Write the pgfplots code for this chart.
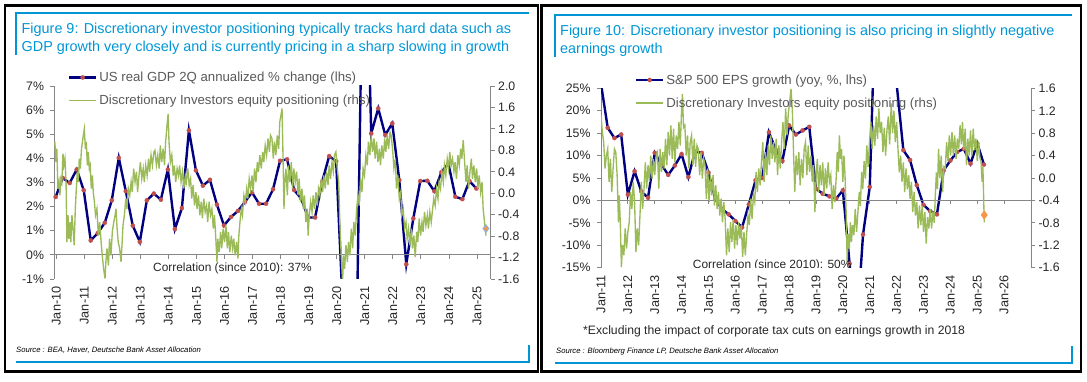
\documentclass[border=0pt]{standalone}
\usepackage{fontspec}
\setmainfont{Liberation Sans}
\usepackage{pgfplots}
\pgfplotsset{compat=1.18}
\definecolor{dbblue}{HTML}{0096D6}
\definecolor{navyl}{HTML}{000080}
\definecolor{redm}{HTML}{C0504D}
\definecolor{greenl}{HTML}{9BBB59}
\definecolor{orangem}{HTML}{F79646}
\definecolor{lblue}{HTML}{8DB4E2}
\definecolor{axgray}{HTML}{868686}
\definecolor{txtgray}{HTML}{595959}
\pgfplotsset{
  dbax/.style={scale only axis,
    axis line style={axgray, line width=0.8pt},
    tick style={axgray, line width=0.8pt},
    tick align=outside, major tick length=4pt,
    tick label style={font=\fontsize{12.3}{13}\selectfont, text=black!85},
    /pgf/number format/assume math mode=true,
    minor tick num=0},
  dblegend/.style={legend cell align=left,
    legend image code/.code={\draw[mark repeat=2,mark phase=2,##1] plot coordinates {(0pt,0pt) (13.5pt,0pt) (27pt,0pt)};},
    legend style={draw=none, fill=none, inner sep=0pt, outer sep=0pt, row sep=12pt, column sep=2pt,
      font=\fontsize{13.2}{15}\selectfont, text=txtgray, nodes={inner sep=0pt, anchor=west}}},
  gdpline/.style={navyl, line width=2.4pt, mark=*, mark size=2.1pt, mark options={solid, fill=redm, draw=redm, line width=0.3pt}},
  posline/.style={greenl, line width=1.35pt}
}
\begin{document}
\begin{tikzpicture}
\useasboundingbox (0pt,0pt) rectangle (1087pt,382pt);
% ---------- frames ----------
\draw[line width=2.5pt] (5pt,376.5pt) rectangle (538pt,10.5pt);
\draw[line width=2.5pt] (541.5pt,376.5pt) rectangle (1081pt,10.5pt);
\draw[dbblue, line width=2pt] (15.5pt,327pt) -- (15.5pt,369pt) -- (528.5pt,369pt);
\draw[dbblue, line width=2pt] (15.5pt,20pt) -- (528.5pt,20pt) -- (528.5pt,37pt);
\draw[dbblue, line width=2pt] (555pt,325pt) -- (555pt,367pt) -- (1072pt,367pt);
\draw[dbblue, line width=2pt] (555pt,19pt) -- (1072pt,19pt) -- (1072pt,36.3pt);
% ---------- titles ----------
\node[anchor=base west, inner sep=0pt, text=dbblue, font=\fontsize{14.4}{17}\selectfont] at (21.5pt,348pt) {Figure 9: Discretionary investor positioning typically tracks hard data such as};
\node[anchor=base west, inner sep=0pt, text=dbblue, font=\fontsize{14.4}{17}\selectfont] at (21.5pt,330.5pt) {GDP growth very closely and is currently pricing in a sharp slowing in growth};
\node[anchor=base west, inner sep=0pt, text=dbblue, font=\fontsize{14.4}{17}\selectfont] at (560pt,346pt) {Figure 10: Discretionary investor positioning is also pricing in slightly negative};
\node[anchor=base west, inner sep=0pt, text=dbblue, font=\fontsize{14.4}{17}\selectfont] at (560pt,328.5pt) {earnings growth};
\node[anchor=base west, inner sep=0pt, font=\fontsize{7.7}{9}\itshape] at (16pt,29.3pt) {Source : BEA, Haver, Deutsche Bank Asset Allocation};
\node[anchor=base west, inner sep=0pt, font=\fontsize{7.7}{9}\itshape] at (556pt,28.5pt) {Source : Bloomberg Finance LP, Deutsche Bank Asset Allocation};
\node[anchor=base west, inner sep=0pt, text=black!85, font=\fontsize{12.2}{14}\selectfont] at (583pt,47.5pt) {*Excluding the impact of corporate tax cuts on earnings growth in 2018};

% ================= LEFT CHART =================
\begin{axis}[dbax, at={(54pt,103pt)}, anchor=south west, width=436.7pt, height=193pt,
  xmin=2009.92, xmax=2025.49, ymin=-1, ymax=7,
  axis y line*=left, axis x line*=bottom, x axis line style={draw=none}, xtick style={draw=none},
  ytick={-1,0,...,7}, yticklabel={\pgfmathprintnumber{\tick}\%},
  yticklabel style={xshift=-2.5pt},
  xtick={2010,...,2025},
  xticklabels={Jan-10,Jan-11,Jan-12,Jan-13,Jan-14,Jan-15,Jan-16,Jan-17,Jan-18,Jan-19,Jan-20,Jan-21,Jan-22,Jan-23,Jan-24,Jan-25},
  xticklabel style={rotate=90, anchor=east, font=\fontsize{12.7}{13}\selectfont}]
\addplot[gdpline] coordinates {
(2009.98,2.4)(2010.23,3.19)(2010.48,2.98)(2010.73,3.54)(2010.98,2.68)(2011.23,0.60)(2011.48,0.90)(2011.73,1.33)
(2011.98,2.26)(2012.23,4.02)(2012.48,2.64)(2012.73,1.21)(2012.98,0.54)(2013.23,2.26)(2013.48,2.54)(2013.73,2.29)
(2013.98,3.54)(2014.23,1.07)(2014.48,1.94)(2014.73,5.16)(2014.98,3.50)(2015.23,2.87)(2015.48,3.11)(2015.73,2.08)
(2015.98,1.22)(2016.23,1.57)(2016.48,1.82)(2016.73,2.20)(2016.98,2.59)(2017.23,2.12)(2017.48,2.12)(2017.73,2.72)
(2017.98,3.90)(2018.23,3.96)(2018.48,2.69)(2018.73,2.34)(2018.98,1.55)(2019.23,1.55)(2019.48,3.03)(2019.73,4.09)
(2019.98,3.88)(2020.23,-2.5)(2020.48,-17)(2020.73,-2.0)(2020.98,16.5)(2021.23,5.03)(2021.48,6.07)(2021.73,4.97)
(2021.98,5.45)(2022.23,3.10)(2022.48,-0.39)(2022.73,1.51)(2022.98,3.06)(2023.23,3.07)(2023.48,2.64)(2023.73,3.42)
(2023.98,3.79)(2024.23,2.41)(2024.48,2.31)(2024.73,3.06)(2024.98,2.75)};
\draw[axgray, line width=0.8pt] (axis cs:2009.92,0) -- (axis cs:2025.49,0);
\end{axis}
\begin{axis}[dbax, dblegend, at={(54pt,103pt)}, anchor=south west, width=436.7pt, height=193pt,
  xmin=2009.92, xmax=2025.49, ymin=-1.6, ymax=2.0,
  axis y line*=right, axis x line=none,
  ytick={-1.6,-1.2,-0.8,-0.4,0,0.4,0.8,1.2,1.6,2},
  yticklabel style={/pgf/number format/fixed, /pgf/number format/fixed zerofill, /pgf/number format/precision=1},
  legend style={at={(0.032,1.073)}, anchor=north west}]
\addlegendimage{gdpline}
\addlegendentry{US real GDP 2Q annualized \% change (lhs)}
\addplot[posline] coordinates {
(2009.95,0.96)(2009.99,0.58)(2010.02,0.83)(2010.06,0.085)(2010.10,0.21)(2010.13,-0.04)(2010.17,0.27)(2010.20,0.21)(2010.24,0.74)(2010.27,0.52)(2010.31,0.645)(2010.35,0.21)(2010.38,-0.91)(2010.42,-0.41)(2010.45,-0.85)(2010.49,-0.54)(2010.52,-0.91)(2010.56,-0.41)(2010.60,-0.66)(2010.64,-0.97)(2010.68,-0.29)(2010.71,0.02)(2010.75,0.40)(2010.79,0.21)(2010.82,0.645)(2010.86,0.46)(2010.90,0.83)(2010.95,1.02)(2011.00,1.20)(2011.04,0.83)(2011.07,0.96)(2011.11,0.52)(2011.14,0.77)(2011.18,0.46)(2011.21,0.52)(2011.25,0.085)(2011.29,0.33)(2011.32,0.02)(2011.36,-0.16)(2011.40,-0.41)(2011.45,-0.29)(2011.50,-0.79)(2011.55,-0.54)(2011.60,-0.91)(2011.64,-1.16)(2011.69,-1.41)(2011.74,-1.59)(2011.77,-1.28)(2011.81,-1.03)(2011.86,-1.35)(2011.90,-0.85)(2011.95,-1.16)(2012.00,-0.72)(2012.05,-0.54)(2012.10,-0.41)(2012.13,-0.29)(2012.17,-0.66)(2012.21,-0.91)(2012.26,-1.03)(2012.31,-1.28)(2012.35,-0.91)(2012.38,-0.60)(2012.43,-0.41)(2012.48,-0.10)(2012.52,-0.29)(2012.57,0.085)(2012.62,-0.04)(2012.67,0.21)(2012.71,0.02)(2012.76,0.46)(2012.81,0.21)(2012.86,0.40)(2012.90,0.02)(2012.95,0.33)(2013.00,0.58)(2013.05,0.27)(2013.10,0.46)(2013.14,0.21)(2013.19,0.52)(2013.24,0.33)(2013.29,0.645)(2013.33,0.40)(2013.38,0.71)(2013.43,0.52)(2013.48,0.77)(2013.52,0.80)(2013.57,0.52)(2013.62,0.71)(2013.67,0.46)(2013.71,0.89)(2013.76,0.58)(2013.81,0.83)(2013.86,0.52)(2013.90,0.96)(2013.95,1.27)(2013.99,1.48)(2014.02,0.96)(2014.07,0.58)(2014.12,0.71)(2014.17,0.33)(2014.21,0.52)(2014.26,0.21)(2014.31,0.46)(2014.36,0.33)(2014.40,0.52)(2014.45,0.21)(2014.50,0.40)(2014.55,0.085)(2014.60,0.33)(2014.64,0.21)(2014.69,0.46)(2014.74,0.15)(2014.79,0.27)(2014.83,-0.10)(2014.88,0.15)(2014.93,-0.23)(2014.98,0.02)(2015.02,-0.29)(2015.07,-0.04)(2015.12,-0.41)(2015.17,-0.16)(2015.21,-0.47)(2015.26,-0.10)(2015.31,-0.35)(2015.36,-0.23)(2015.40,-0.54)(2015.45,-0.16)(2015.50,-0.41)(2015.55,-0.29)(2015.60,-0.66)(2015.64,-0.41)(2015.69,-0.85)(2015.73,-1.28)(2015.76,-0.85)(2015.81,-1.10)(2015.86,-0.72)(2015.90,-1.03)(2015.95,-0.66)(2016.00,-0.91)(2016.05,-0.60)(2016.10,-1.03)(2016.14,-0.72)(2016.19,-1.10)(2016.24,-0.79)(2016.29,-1.03)(2016.33,-0.85)(2016.38,-1.16)(2016.43,-0.91)(2016.48,-1.22)(2016.51,-0.79)(2016.55,-0.54)(2016.60,-0.29)(2016.64,-0.41)(2016.69,-0.04)(2016.74,-0.16)(2016.79,0.085)(2016.83,-0.10)(2016.88,0.27)(2016.93,0.085)(2016.98,0.33)(2017.02,0.02)(2017.07,0.46)(2017.12,0.21)(2017.17,0.58)(2017.21,0.40)(2017.26,0.71)(2017.31,0.46)(2017.36,0.77)(2017.40,0.58)(2017.45,0.89)(2017.50,0.71)(2017.55,1.02)(2017.60,0.77)(2017.64,1.08)
(2017.69,1.02)(2017.74,0.645)(2017.78,0.96)(2017.83,0.71)(2017.88,1.08)(2017.93,0.83)(2017.97,1.33)(2018.01,1.45)(2018.05,1.58)(2018.08,0.83)(2018.12,-0.29)(2018.15,0.21)(2018.19,0.46)(2018.24,-0.04)(2018.28,0.52)(2018.33,0.21)(2018.38,0.58)(2018.43,0.085)(2018.47,0.46)(2018.52,0.21)(2018.57,0.40)(2018.62,-0.04)(2018.66,0.27)(2018.71,-0.16)(2018.76,0.085)(2018.81,-0.29)(2018.85,-0.04)(2018.90,-0.54)(2018.95,-0.29)(2018.98,-0.79)(2019.02,-0.41)(2019.07,-0.16)(2019.12,-0.35)(2019.16,-0.04)(2019.21,-0.29)(2019.26,0.02)(2019.31,-0.23)(2019.35,0.085)(2019.40,-0.04)(2019.45,0.27)(2019.50,0.02)(2019.54,0.33)(2019.59,0.085)(2019.64,0.40)(2019.69,0.15)(2019.73,0.52)(2019.78,0.27)(2019.83,0.58)(2019.88,0.40)(2019.92,0.71)(2019.97,0.77)(2020.02,0.46)(2020.07,0.21)(2020.11,-0.54)(2020.16,-1.16)(2020.21,-1.66)(2020.24,-1.16)(2020.28,-1.41)(2020.33,-0.97)(2020.38,-1.28)(2020.42,-0.91)(2020.47,-1.16)(2020.52,-0.66)(2020.57,-1.03)(2020.61,-0.54)(2020.66,-0.79)(2020.71,-0.29)(2020.76,-0.04)(2020.80,-0.23)(2020.85,0.27)(2020.90,0.02)(2020.94,0.46)(2020.99,0.33)(2021.04,0.71)(2021.09,0.52)(2021.13,0.96)(2021.18,0.71)(2021.23,1.08)(2021.28,0.77)(2021.33,1.02)(2021.37,0.645)(2021.42,0.96)(2021.47,0.58)(2021.52,0.83)(2021.56,0.52)(2021.61,0.89)(2021.66,0.645)(2021.71,1.02)(2021.75,0.77)(2021.80,1.08)(2021.85,0.83)(2021.90,1.14)(2021.94,1.08)(2021.99,0.83)(2022.04,0.46)(2022.09,0.645)(2022.13,0.085)(2022.18,0.33)(2022.23,-0.10)(2022.28,0.02)(2022.32,-0.41)(2022.37,-0.29)(2022.42,-0.66)(2022.47,-0.54)(2022.51,-0.85)(2022.56,-0.66)(2022.61,-0.97)(2022.66,-0.66)(2022.70,-1.03)(2022.75,-0.79)(2022.80,-1.19)(2022.85,-0.72)(2022.89,-0.91)(2022.94,-0.47)(2022.99,-0.79)(2023.04,-0.54)(2023.08,-0.72)(2023.13,-0.35)(2023.18,-0.60)(2023.23,-0.41)(2023.27,-0.66)(2023.32,-0.35)(2023.37,-0.54)(2023.42,-0.29)(2023.46,-0.10)(2023.51,-0.23)(2023.56,0.085)(2023.61,-0.10)(2023.65,0.21)(2023.70,0.085)(2023.75,0.40)(2023.80,0.21)(2023.84,0.52)(2023.89,0.33)(2023.94,0.645)(2023.99,0.46)(2024.03,0.77)(2024.08,0.52)(2024.13,0.645)(2024.18,0.40)(2024.22,0.58)(2024.27,0.27)(2024.32,0.71)(2024.37,0.52)(2024.42,0.83)(2024.46,0.645)(2024.51,0.99)(2024.56,0.58)(2024.61,0.21)(2024.65,0.52)(2024.70,0.085)(2024.75,0.40)(2024.80,0.645)(2024.84,0.27)(2024.89,0.52)(2024.94,0.21)(2024.99,0.46)(2025.03,0.085)(2025.08,0.33)(2025.13,0.02)(2025.18,0.21)(2025.22,-0.29)(2025.27,-0.54)(2025.32,-0.79)};
\addlegendentry{Discretionary Investors equity positioning (rhs)}
\addplot[forget plot, only marks, mark=diamond*, mark size=3.8pt, mark options={fill=orangem, draw=lblue, line width=1pt}] coordinates {(2025.32,-0.66)};
\node[anchor=west, inner sep=0pt, text=black!85, font=\fontsize{11.9}{13}\selectfont] at (axis description cs:0.2267,0.057) {Correlation (since 2010): 37\%};
\end{axis}
% x tick marks on the zero line (left chart)
\foreach \i in {0,...,15} {\pgfmathsetmacro\xx{56.24+\i*28.048}
  \draw[axgray, line width=0.8pt] (\xx pt,127.125pt) -- ++(0pt,-4pt);}

% ================= RIGHT CHART =================
\begin{axis}[dbax, at={(601pt,114.3pt)}, anchor=south west, width=430pt, height=179.4pt,
  xmin=2011, xmax=2027, ymin=-15, ymax=25,
  axis y line*=left, axis x line*=bottom, x axis line style={draw=none}, xtick style={draw=none},
  ytick={-15,-10,...,25}, yticklabel={\pgfmathprintnumber{\tick}\%},
  yticklabel style={xshift=-3pt},
  xtick={2011,...,2026},
  xticklabels={Jan-11,Jan-12,Jan-13,Jan-14,Jan-15,Jan-16,Jan-17,Jan-18,Jan-19,Jan-20,Jan-21,Jan-22,Jan-23,Jan-24,Jan-25,Jan-26},
  xticklabel style={rotate=90, anchor=east, font=\fontsize{12.7}{13}\selectfont}]
\addplot[gdpline] coordinates {
(2011.00,26)(2011.25,16.2)(2011.50,13.9)(2011.75,14.7)(2012.00,1.3)(2012.25,6.5)(2012.50,2.0)(2012.75,0.6)
(2013.00,10.6)(2013.25,8.0)(2013.50,5.7)(2013.75,7.8)(2014.00,10.3)(2014.25,5.2)(2014.50,10.9)(2014.75,10.6)
(2015.00,6.2)(2015.25,0.3)(2015.50,-1.9)(2015.75,-3.1)(2016.00,-4.6)(2016.25,-6.0)(2016.50,-0.9)(2016.75,4.5)
(2017.00,5.0)(2017.25,15.2)(2017.50,11.3)(2017.75,8.8)(2018.00,16.7)(2018.25,14.7)(2018.50,15.6)(2018.75,16.4)
(2019.00,2.6)(2019.25,1.5)(2019.50,0.9)(2019.75,0.4)(2020.00,2.25)(2020.25,-14.1)(2020.50,-30)(2020.75,-7.6)
(2021.00,3.0)(2021.25,52)(2021.50,45)(2021.75,35)(2022.00,26)(2022.25,11.2)(2022.50,9.0)(2022.75,3.4)
(2023.00,-1.0)(2023.25,-2.4)(2023.50,-3.1)(2023.75,6.7)(2024.00,8.9)(2024.25,10.8)(2024.50,11.5)(2024.75,8.2)
(2025.00,12.7)(2025.25,8.0)};
\draw[axgray, line width=0.8pt] (axis cs:2011,0) -- (axis cs:2027,0);
\end{axis}
\begin{axis}[dbax, dblegend, at={(601pt,114.3pt)}, anchor=south west, width=430pt, height=179.4pt,
  xmin=2011, xmax=2027, ymin=-1.6, ymax=1.6,
  axis y line*=right, axis x line=none,
  ytick={-1.6,-1.2,-0.8,-0.4,0,0.4,0.8,1.2,1.6},
  yticklabel style={/pgf/number format/fixed, /pgf/number format/fixed zerofill, /pgf/number format/precision=1},
  legend style={at={(0.079,1.077)}, anchor=north west}]
\addlegendimage{gdpline}
\addlegendentry{S\&P 500 EPS growth (yoy, \%, lhs)}
\addplot[posline] coordinates {
(2011.00,1.12)(2011.05,0.82)(2011.10,0.64)(2011.15,0.17)(2011.20,0.40)(2011.25,0.52)(2011.30,-0.07)(2011.35,0.34)(2011.40,-0.25)(2011.45,0.17)(2011.50,0.52)(2011.55,0.46)(2011.60,0.05)(2011.65,-0.79)(2011.68,-0.31)(2011.72,-0.84)(2011.76,-1.59)(2011.80,-1.2)(2011.85,-1.38)(2011.90,-0.90)(2011.95,-1.26)(2012.00,-0.96)(2012.05,-0.79)(2012.10,-0.25)(2012.15,-0.55)(2012.20,-0.07)(2012.25,-0.43)(2012.30,-1.32)(2012.35,-0.90)(2012.40,-1.2)(2012.45,-0.67)(2012.50,-0.07)(2012.55,-0.55)(2012.60,-0.19)(2012.65,0.28)(2012.70,-0.19)(2012.75,0.23)(2012.80,-0.07)(2012.85,0.40)(2012.90,-0.01)(2012.95,0.34)(2013.00,0.05)(2013.05,0.40)(2013.10,0.46)(2013.15,-0.19)(2013.20,0.52)(2013.25,0.11)(2013.30,0.46)(2013.35,0.17)(2013.40,0.70)(2013.45,0.23)(2013.50,0.82)(2013.55,0.40)(2013.60,0.94)(2013.65,0.34)(2013.70,0.88)(2013.75,0.28)(2013.80,0.76)(2013.85,0.52)(2013.90,1.0)(2013.95,0.58)(2014.00,1.24)(2014.03,1.50)(2014.07,0.9)(2014.12,0.94)(2014.17,0.4)(2014.22,0.76)(2014.27,0.17)(2014.32,0.64)(2014.37,0.76)(2014.42,0.23)(2014.47,0.70)(2014.52,0.2)(2014.57,0.58)(2014.62,0.52)(2014.67,0.05)(2014.72,0.46)(2014.77,-0.01)(2014.82,0.34)(2014.87,0.23)(2014.92,-0.37)(2014.97,0.17)(2015.02,-0.43)(2015.07,0.05)(2015.12,-0.31)(2015.17,0.05)(2015.22,-0.49)(2015.27,-0.13)(2015.32,-0.55)(2015.37,-0.25)(2015.42,-0.67)(2015.47,-0.37)(2015.52,-0.79)(2015.57,-0.43)(2015.62,-0.73)(2015.67,-1.38)(2015.72,-0.90)(2015.77,-1.32)(2015.82,-0.79)(2015.87,-1.14)(2015.92,-0.73)(2015.97,-1.26)(2016.02,-0.84)(2016.07,-1.20)(2016.12,-0.79)(2016.17,-1.08)(2016.22,-0.84)(2016.27,-1.41)(2016.32,-0.96)(2016.37,-1.38)(2016.42,-1.0)(2016.47,-0.67)(2016.52,-0.84)(2016.57,-0.37)(2016.62,-0.73)(2016.67,-0.31)(2016.72,-0.43)(2016.77,0.11)(2016.82,-0.25)(2016.87,0.17)(2016.92,-0.13)(2016.97,0.28)(2017.02,0.64)(2017.07,-0.07)(2017.12,0.46)(2017.17,0.05)(2017.22,0.58)(2017.27,0.23)(2017.32,0.76)(2017.37,0.34)(2017.42,0.64)(2017.47,0.28)(2017.52,0.70)(2017.57,0.05)(2017.62,0.58)(2017.67,0.17)(2017.72,0.64)(2017.77,1.0)(2017.82,0.52)(2017.87,1.24)(2017.92,0.76)(2017.97,1.15)(2018.02,1.36)(2018.07,1.59)(2018.12,1.2)(2018.16,0.52)(2018.21,-0.25)(2018.26,0.40)(2018.31,0.05)(2018.36,0.46)(2018.41,-0.13)(2018.46,0.34)(2018.51,0.0)(2018.56,0.52)(2018.61,0.64)(2018.66,0.05)(2018.71,0.58)(2018.76,0.11)(2018.81,0.4)(2018.86,-0.07)(2018.91,0.23)(2018.96,-0.61)(2019.01,0.11)
(2019.05,0.34)(2019.10,-0.25)(2019.15,0.23)(2019.20,-0.13)(2019.25,0.28)(2019.30,-0.31)(2019.35,0.17)(2019.40,-0.19)(2019.45,0.28)(2019.50,-0.07)(2019.55,0.05)(2019.60,-0.55)(2019.65,-0.13)(2019.70,-0.43)(2019.75,0.0)(2019.79,0.46)(2019.83,0.11)(2019.87,0.76)(2019.91,0.34)(2019.95,0.52)(2020.00,-0.07)(2020.04,0.40)(2020.08,0.05)(2020.12,-0.6)(2020.16,-1.50)(2020.20,-1.0)(2020.24,-1.26)(2020.28,-0.79)(2020.32,-1.14)(2020.36,-0.84)(2020.41,-1.02)(2020.46,-0.55)(2020.51,-0.96)(2020.56,-0.6)(2020.61,-0.25)(2020.65,-0.5)(2020.70,0.11)(2020.74,-0.2)(2020.79,0.3)(2020.84,-0.01)(2020.89,0.58)(2020.94,0.2)(2020.99,0.64)(2021.04,1.0)(2021.09,0.52)(2021.14,0.94)(2021.19,0.58)(2021.24,1.1)(2021.29,0.7)(2021.34,1.24)(2021.39,0.8)(2021.44,1.0)(2021.49,0.46)(2021.54,0.9)(2021.59,0.4)(2021.64,0.85)(2021.69,1.1)(2021.74,0.6)(2021.80,1.33)(2021.85,0.8)(2021.90,1.2)(2021.95,0.64)(2022.00,1.0)(2022.05,0.52)(2022.10,0.1)(2022.15,0.4)(2022.20,-0.07)(2022.25,0.28)(2022.30,-0.25)(2022.35,0.17)(2022.40,-0.2)(2022.45,0.05)(2022.50,-0.37)(2022.55,-0.07)(2022.60,-0.61)(2022.65,-0.25)(2022.70,-0.67)(2022.75,-0.43)(2022.80,-0.9)(2022.85,-0.49)(2022.90,-0.84)(2022.95,-0.5)(2023.00,-0.96)(2023.05,-0.61)(2023.10,-1.17)(2023.15,-0.7)(2023.20,-0.9)(2023.25,-0.55)(2023.30,-0.9)(2023.35,-0.6)(2023.40,-0.8)(2023.44,-0.3)(2023.48,0.1)(2023.52,-0.2)(2023.56,0.52)(2023.61,0.0)(2023.66,0.40)(2023.71,-0.25)(2023.76,0.2)(2023.81,0.17)(2023.86,0.64)(2023.91,0.3)(2023.96,0.76)(2024.01,0.4)(2024.06,0.82)(2024.11,0.4)(2024.16,0.76)(2024.21,0.34)(2024.26,0.7)(2024.31,0.52)(2024.36,0.94)(2024.41,0.6)(2024.45,1.0)(2024.50,0.5)(2024.55,0.88)(2024.60,0.23)(2024.65,0.7)(2024.70,0.4)(2024.75,0.85)(2024.80,0.4)(2024.85,0.88)(2024.90,0.5)(2024.95,0.7)(2025.00,0.3)(2025.05,0.64)(2025.10,0.35)(2025.14,0.3)(2025.18,-0.07)(2025.21,0.2)(2025.24,-0.4)(2025.26,-0.79)};
\addlegendentry{Discretionary Investors equity positioning (rhs)}
\addplot[forget plot, only marks, mark=diamond*, mark size=3.8pt, mark options={fill=orangem, draw=orangem, line width=1pt}] coordinates {(2025.26,-0.66)};
\node[anchor=west, inner sep=0pt, text=black!85, font=\fontsize{11.9}{13}\selectfont] at (axis description cs:0.2133,0.0111) {Correlation (since 2010): 50\%};
\end{axis}
% x tick marks on the zero line (right chart)
\foreach \i in {0,...,16} {\pgfmathsetmacro\xx{601+\i*26.875}
  \draw[axgray, line width=0.8pt] (\xx pt,181.58pt) -- ++(0pt,-4pt);}
\end{tikzpicture}
\end{document}
